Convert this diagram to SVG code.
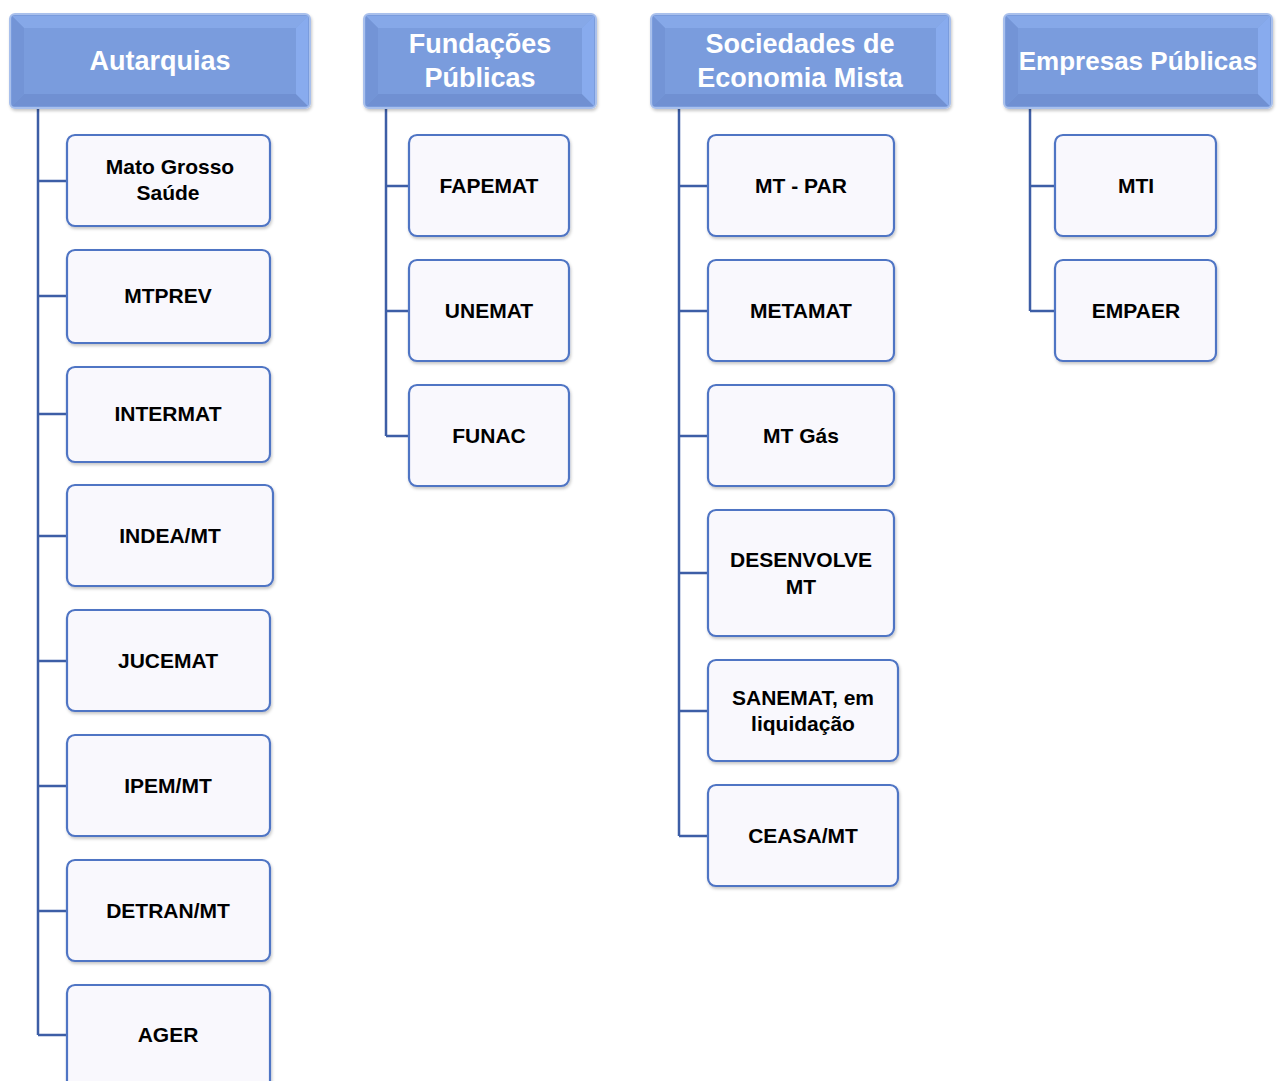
<svg xmlns="http://www.w3.org/2000/svg" width="1278" height="1081" viewBox="0 0 1278 1081">
<defs>
<filter id="sh" x="-10%" y="-10%" width="120%" height="130%">
<feDropShadow dx="1" dy="2" stdDeviation="1.5" flood-color="#000" flood-opacity="0.22"/>
</filter>
</defs>
<style>
.hdr{fill:#7a9cdd;stroke:#a9c0ec;stroke-width:2;filter:url(#sh)}
.face{fill:#7a9cdd}
.btop{fill:#86a8e8}
.bbot{fill:#7090d2}
.bl{fill:#7394d6}
.br{fill:#88abee}
.ht{font-family:"Liberation Sans",Arial,sans-serif;font-weight:bold;font-size:27px;fill:#fff;text-anchor:middle}
.box{fill:#f9f8fd;stroke:#4f74c4;stroke-width:2.2;filter:url(#sh)}
.bt{font-family:"Liberation Sans",Arial,sans-serif;font-weight:bold;font-size:21px;fill:#000;text-anchor:middle}
.con{fill:none;stroke:#3d5ea6;stroke-width:2.5}
</style>

<g id="connectors">
<path class="con" d="M38 108 V1035 M38 181 H67 M38 296 H67 M38 414 H67 M38 536 H67 M38 661 H67 M38 786 H67 M38 911 H67 M38 1035 H67"/>
<path class="con" d="M386 108 V436 M386 186 H409 M386 311 H409 M386 436 H409"/>
<path class="con" d="M679 108 V836 M679 186 H708 M679 311 H708 M679 436 H708 M679 573 H708 M679 711 H708 M679 836 H708"/>
<path class="con" d="M1030 108 V311 M1030 186 H1055 M1030 311 H1055"/>
</g>

<g id="h-autarquias">
<rect class="hdr" x="10" y="14" width="300" height="94" rx="5"/>
<polygon class="btop" points="12,16 308,16 296,28 24,28"/>
<polygon class="bbot" points="12,106 308,106 296,94 24,94"/>
<polygon class="bl" points="12,16 24,28 24,94 12,106"/>
<polygon class="br" points="308,16 296,28 296,94 308,106"/>
<rect class="face" x="24" y="28" width="272" height="66"/>
<text class="ht" x="160" y="70">Autarquias</text>
</g>
<g id="h-fundacoes">
<rect class="hdr" x="364" y="14" width="232" height="94" rx="5"/>
<polygon class="btop" points="366,16 594,16 582,28 378,28"/>
<polygon class="bbot" points="366,106 594,106 582,94 378,94"/>
<polygon class="bl" points="366,16 378,28 378,94 366,106"/>
<polygon class="br" points="594,16 582,28 582,94 594,106"/>
<rect class="face" x="378" y="28" width="204" height="66"/>
<text class="ht" x="480" y="53">Fundações</text>
<text class="ht" x="480" y="87">Públicas</text>
</g>
<g id="h-sociedades">
<rect class="hdr" x="651" y="14" width="299" height="94" rx="5"/>
<polygon class="btop" points="653,16 948,16 936,28 665,28"/>
<polygon class="bbot" points="653,106 948,106 936,94 665,94"/>
<polygon class="bl" points="653,16 665,28 665,94 653,106"/>
<polygon class="br" points="948,16 936,28 936,94 948,106"/>
<rect class="face" x="665" y="28" width="271" height="66"/>
<text class="ht" x="800" y="53">Sociedades de</text>
<text class="ht" x="800" y="87">Economia Mista</text>
</g>
<g id="h-empresas">
<rect class="hdr" x="1004" y="14" width="268" height="94" rx="5"/>
<polygon class="btop" points="1006,16 1270,16 1258,28 1018,28"/>
<polygon class="bbot" points="1006,106 1270,106 1258,94 1018,94"/>
<polygon class="bl" points="1006,16 1018,28 1018,94 1006,106"/>
<polygon class="br" points="1270,16 1258,28 1258,94 1270,106"/>
<rect class="face" x="1018" y="28" width="240" height="66"/>
<text class="ht" x="1138" y="70" style="font-size:26px">Empresas Públicas</text>
</g>

<g id="n-mtsaude"><rect class="box" x="67" y="135" width="203" height="91" rx="8"/><text class="bt" x="170" y="174">Mato Grosso</text><text class="bt" x="168" y="200">Saúde</text></g>
<g id="n-mtprev"><rect class="box" x="67" y="250" width="203" height="93" rx="8"/><text class="bt" x="168" y="303">MTPREV</text></g>
<g id="n-intermat"><rect class="box" x="67" y="367" width="203" height="95" rx="8"/><text class="bt" x="168" y="421">INTERMAT</text></g>
<g id="n-indea"><rect class="box" x="67" y="485" width="206" height="101" rx="8"/><text class="bt" x="170" y="543">INDEA/MT</text></g>
<g id="n-jucemat"><rect class="box" x="67" y="610" width="203" height="101" rx="8"/><text class="bt" x="168" y="668">JUCEMAT</text></g>
<g id="n-ipem"><rect class="box" x="67" y="735" width="203" height="101" rx="8"/><text class="bt" x="168" y="793">IPEM/MT</text></g>
<g id="n-detran"><rect class="box" x="67" y="860" width="203" height="101" rx="8"/><text class="bt" x="168" y="918">DETRAN/MT</text></g>
<g id="n-ager"><rect class="box" x="67" y="985" width="203" height="110" rx="8"/><text class="bt" x="168" y="1042">AGER</text></g>

<g id="n-fapemat"><rect class="box" x="409" y="135" width="160" height="101" rx="8"/><text class="bt" x="489" y="193">FAPEMAT</text></g>
<g id="n-unemat"><rect class="box" x="409" y="260" width="160" height="101" rx="8"/><text class="bt" x="489" y="318">UNEMAT</text></g>
<g id="n-funac"><rect class="box" x="409" y="385" width="160" height="101" rx="8"/><text class="bt" x="489" y="443">FUNAC</text></g>

<g id="n-mtpar"><rect class="box" x="708" y="135" width="186" height="101" rx="8"/><text class="bt" x="801" y="193">MT - PAR</text></g>
<g id="n-metamat"><rect class="box" x="708" y="260" width="186" height="101" rx="8"/><text class="bt" x="801" y="318">METAMAT</text></g>
<g id="n-mtgas"><rect class="box" x="708" y="385" width="186" height="101" rx="8"/><text class="bt" x="801" y="443">MT Gás</text></g>
<g id="n-desenvolve"><rect class="box" x="708" y="510" width="186" height="126" rx="8"/><text class="bt" x="801" y="567">DESENVOLVE</text><text class="bt" x="801" y="594">MT</text></g>
<g id="n-sanemat"><rect class="box" x="708" y="660" width="190" height="101" rx="8"/><text class="bt" x="803" y="705">SANEMAT, em</text><text class="bt" x="803" y="731">liquidação</text></g>
<g id="n-ceasa"><rect class="box" x="708" y="785" width="190" height="101" rx="8"/><text class="bt" x="803" y="843">CEASA/MT</text></g>

<g id="n-mti"><rect class="box" x="1055" y="135" width="161" height="101" rx="8"/><text class="bt" x="1136" y="193">MTI</text></g>
<g id="n-empaer"><rect class="box" x="1055" y="260" width="161" height="101" rx="8"/><text class="bt" x="1136" y="318">EMPAER</text></g>
</svg>
